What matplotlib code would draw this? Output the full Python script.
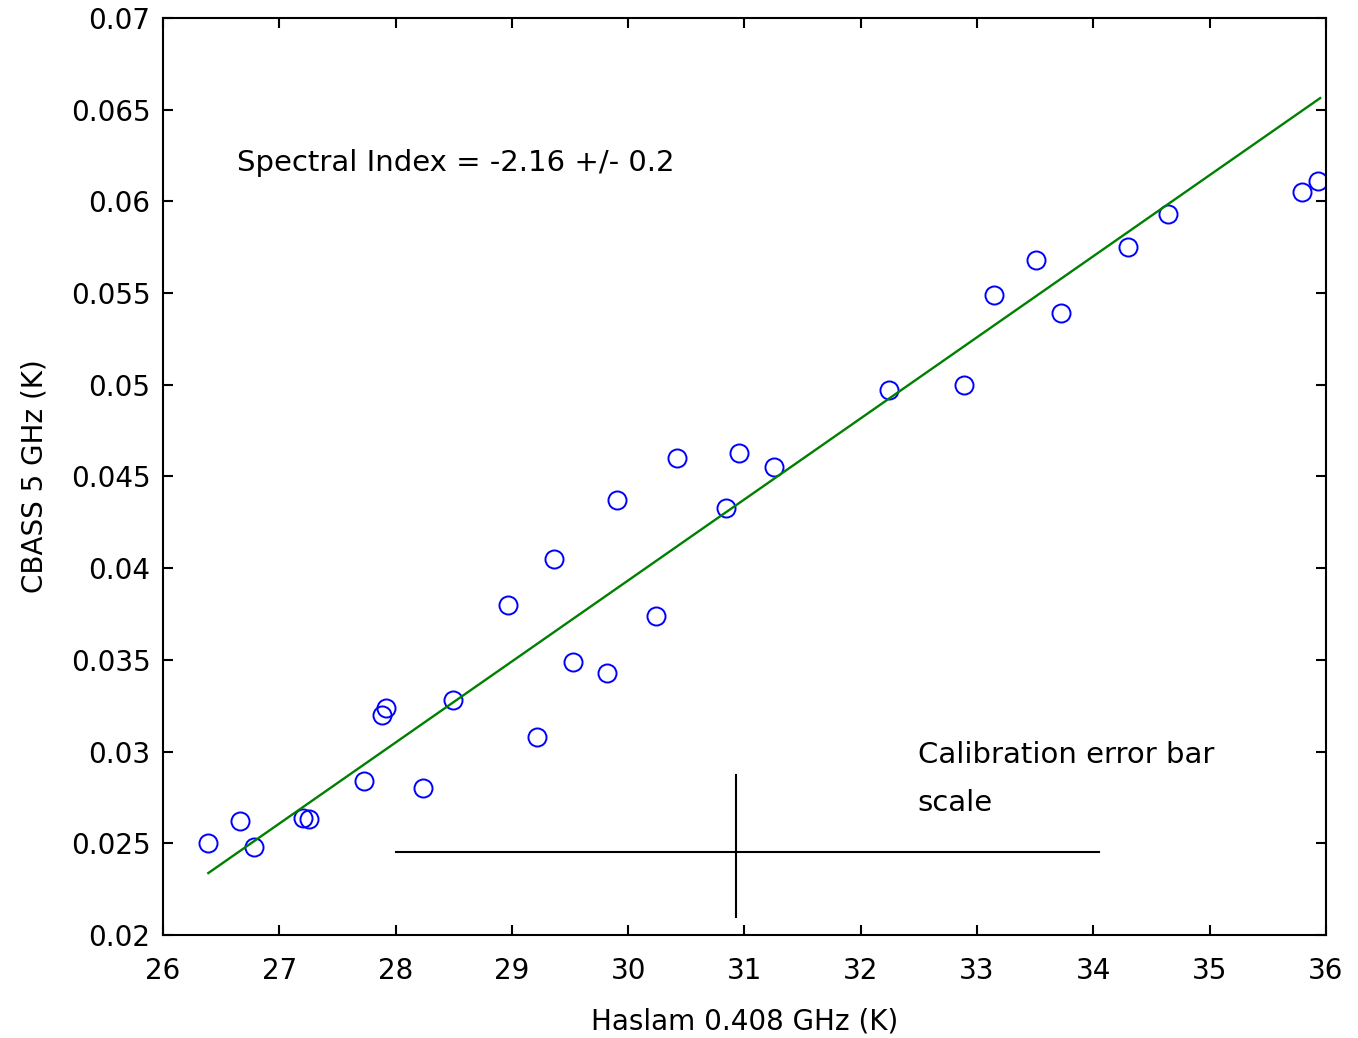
import numpy as np
import matplotlib
matplotlib.use("Agg")
import matplotlib.pyplot as plt

# data
haslam = [26.39, 26.66, 26.78, 27.20, 27.26, 27.73, 27.88, 27.92, 28.24, 28.49,
          28.97, 29.22, 29.36, 29.53, 29.82, 29.90, 30.24, 30.42, 30.84, 30.95,
          31.25, 32.24, 32.89, 33.15, 33.51, 33.72, 34.30, 34.64, 35.79, 35.93]
cbass = [0.0250, 0.0262, 0.0248, 0.0264, 0.0263, 0.0284, 0.0320, 0.0324, 0.0280, 0.0328,
         0.0380, 0.0308, 0.0405, 0.0349, 0.0343, 0.0437, 0.0374, 0.0460, 0.0433, 0.0463,
         0.0455, 0.0497, 0.0500, 0.0549, 0.0568, 0.0539, 0.0575, 0.0593, 0.0605, 0.0611]

fit_x = [26.39, 35.95]
fit_slope = 0.00442
fit_icpt = -0.09327

err_x = 30.93
err_y = 0.0245
err_xlo, err_xhi = 28.0, 34.05
err_ylo, err_yhi = 0.0210, 0.0287

plt.rcParams['font.family'] = ['DejaVu Sans']
fs = 20
fig = plt.figure(figsize=(13.58, 10.38), dpi=100)
ax = fig.add_axes([0.120, 0.0993, 0.8564, 0.8834])

fx = np.array(fit_x)
ax.plot(haslam, cbass, 'o', mfc='none', mec='blue', ms=13, mew=1.4)
ax.plot(fx, fit_slope * fx + fit_icpt, color=(0, 0.5, 0), lw=1.7)

ax.plot([err_xlo, err_xhi], [err_y, err_y], color='black', lw=1.5)
ax.plot([err_x, err_x], [err_ylo, err_yhi], color='black', lw=1.5)

ax.text(26.64, 0.0621, 'Spectral Index = -2.16 +/- 0.2', fontsize=21, va='center')
ax.text(32.49, 0.0298, 'Calibration error bar', fontsize=21, va='center')
ax.text(32.49, 0.0272, 'scale', fontsize=21, va='center')

ax.set_xlim(26, 36)
ax.set_ylim(0.02, 0.07)
ax.set_xticks(range(26, 37))
yt = [0.02, 0.025, 0.03, 0.035, 0.04, 0.045, 0.05, 0.055, 0.06, 0.065, 0.07]
ax.set_yticks(yt)
ax.set_yticklabels(['0.02', '0.025', '0.03', '0.035', '0.04', '0.045', '0.05',
                    '0.055', '0.06', '0.065', '0.07'])
ax.tick_params(direction='in', top=True, right=True, length=7.5, width=1.5,
               labelsize=fs)
ax.tick_params(axis='x', pad=16)
ax.tick_params(axis='y', pad=9)
for s in ax.spines.values():
    s.set_linewidth(1.5)

ax.set_xlabel('Haslam 0.408 GHz (K)', fontsize=fs, labelpad=16)
ax.set_ylabel('CBASS 5 GHz (K)', fontsize=fs, labelpad=16)

fig.savefig('out.png', dpi=100)
